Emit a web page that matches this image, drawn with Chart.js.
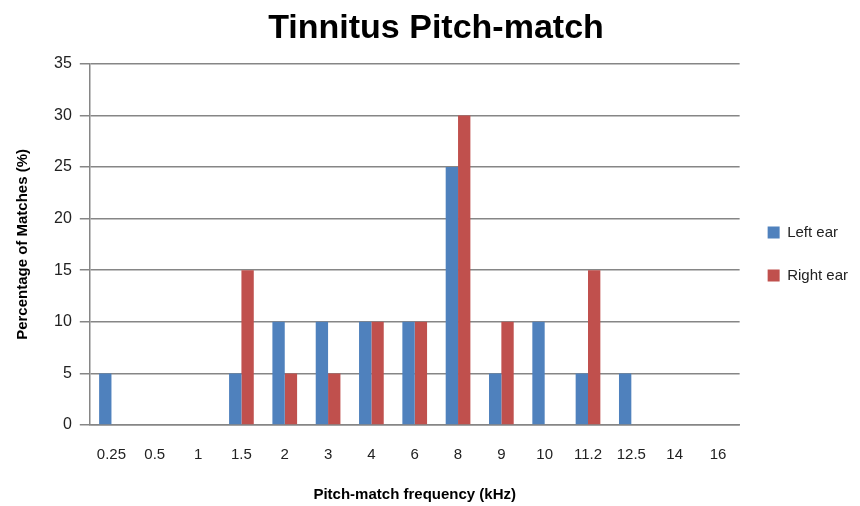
<!DOCTYPE html>
<html>
<head>
<meta charset="utf-8">
<script src="https://cdn.jsdelivr.net/npm/chart.js@4"></script>
<style>
  html, body { margin: 0; padding: 0; background: #fff; }
  #wrap { width: 860px; height: 506px; }
</style>
</head>
<body>
<div id="wrap"><canvas id="pitchChart" width="860" height="506"></canvas></div>
<script>
const frequencies = ['0.25', '0.5', '1', '1.5', '2', '3', '4', '6', '8', '9', '10', '11.2', '12.5', '14', '16'];
const leftEar = [5, 0, 0, 5, 10, 10, 10, 10, 25, 5, 10, 5, 5, 0, 0];
const rightEar = [0, 0, 0, 15, 5, 5, 10, 10, 30, 10, 0, 15, 0, 0, 0];

const FONT = "'Liberation Sans', sans-serif";

const ctx = document.getElementById('pitchChart').getContext('2d');
new Chart(ctx, {
    type: 'bar',
    data: {
        labels: frequencies,
        datasets: [{
            label: 'Left ear',
            data: leftEar,
            backgroundColor: '#4F81BD',
            categoryPercentage: 0.57,
            barPercentage: 1
        }, {
            label: 'Right ear',
            data: rightEar,
            backgroundColor: '#C0504D',
            categoryPercentage: 0.57,
            barPercentage: 1
        }]
    },
    options: {
        responsive: false,
        animation: false,
        layout: { padding: { left: 14, right: 2, top: 4, bottom: 2 } },
        plugins: {
            title: {
                display: true,
                text: 'Tinnitus Pitch-match',
                color: '#000',
                font: { family: FONT, size: 34, weight: 'bold' },
                padding: { top: 4, bottom: 15 }
            },
            legend: {
                position: 'right',
                labels: {
                    color: '#222',
                    font: { family: FONT, size: 15 },
                    boxWidth: 12,
                    boxHeight: 12,
                    padding: 28
                }
            },
            tooltip: { enabled: false }
        },
        scales: {
            x: {
                grid: { display: false, drawTicks: false },
                border: { color: '#868686', width: 1.5 },
                ticks: { color: '#222', font: { family: FONT, size: 15 }, padding: 21, maxRotation: 0, autoSkip: false },
                title: {
                    display: true,
                    text: 'Pitch-match frequency (kHz)',
                    color: '#000',
                    font: { family: FONT, size: 15, weight: 'bold' },
                    padding: { top: 1, bottom: 0 }
                }
            },
            y: {
                min: 0,
                max: 35,
                ticks: { stepSize: 5, color: '#222', font: { family: FONT, size: 16 }, padding: 8 },
                grid: { color: '#868686', lineWidth: 1.5, tickLength: 10 },
                border: { color: '#868686', width: 1.5 },
                title: {
                    display: true,
                    text: 'Percentage of Matches (%)',
                    color: '#000',
                    font: { family: FONT, size: 15, weight: 'bold' },
                    padding: { top: 0, bottom: 14 }
                }
            }
        }
    }
});
</script>
</body>
</html>
